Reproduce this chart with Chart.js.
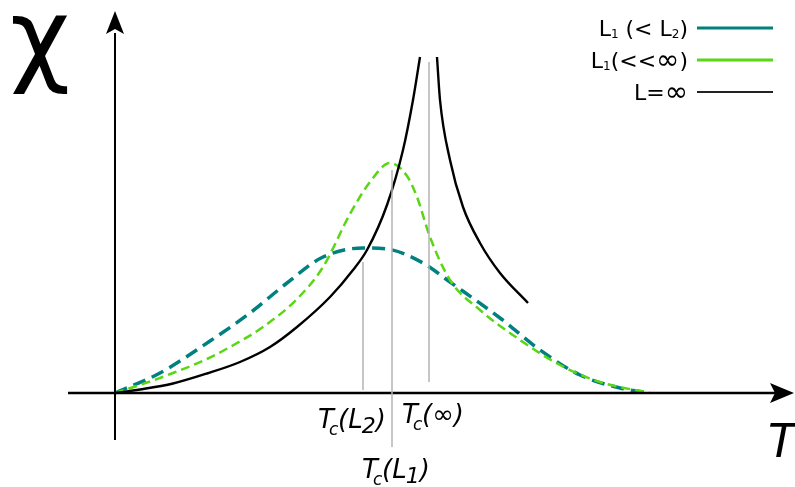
<!DOCTYPE html>
<html>
<head>
<meta charset="utf-8">
<script src="https://cdn.jsdelivr.net/npm/chart.js@4/dist/chart.umd.min.js"></script>
<style>
  html, body { margin: 0; padding: 0; background: #fff; }
  #wrap { width: 795px; height: 487px; }
</style>
</head>
<body>
<div id="wrap"><canvas id="c" width="795" height="487"></canvas></div>
<script>
// curva L1 (< L2) — verde azulado, discontinua
const tealT = [0, 0.45, 0.95, 1.35, 1.72, 2.08, 2.48, 2.72, 3.08, 3.35, 3.85, 4.25, 4.65, 5.05, 5.35];
const tealChi = [0, 0.20, 0.52, 0.80, 1.10, 1.36, 1.45, 1.44, 1.30, 1.11, 0.75, 0.43, 0.18, 0.05, 0];
// curva L1 (<< inf) — verde claro, discontinua
const greenT = [0, 0.25, 0.58, 0.92, 1.15, 1.48, 1.82, 2.08, 2.35, 2.55, 2.75, 2.92, 3.02, 3.15, 3.35, 3.65, 4.05, 4.45, 4.85, 5.35];
const greenChi = [0, 0.08, 0.20, 0.34, 0.46, 0.66, 0.94, 1.26, 1.79, 2.11, 2.30, 2.17, 1.96, 1.56, 1.13, 0.83, 0.53, 0.28, 0.11, 0];
// L = inf, dos ramas
const blackLeftT = [0, 0.25, 0.58, 0.92, 1.25, 1.55, 1.82, 2.15, 2.38, 2.52, 2.72, 2.88, 2.98, 3.05];
const blackLeftChi = [0, 0.035, 0.095, 0.195, 0.31, 0.46, 0.66, 0.96, 1.23, 1.43, 1.88, 2.43, 2.93, 3.36];
const blackRightT = [3.22, 3.25, 3.35, 3.48, 3.65, 3.85, 4.13];
const blackRightChi = [3.36, 2.93, 2.33, 1.86, 1.50, 1.20, 0.90];
// líneas verticales grises en Tc
const tcT = [2.48, 2.77, 3.14];
const tcTop = [1.31, 2.23, 3.31];
const tcBottom = [0.03, -0.54, 0.11];

const pts = (xs, ys) => xs.map((x, i) => ({ x: x, y: ys[i] }));

const datasets = [];
tcT.forEach((t, i) => {
  datasets.push({ data: [{ x: t, y: tcBottom[i] }, { x: t, y: tcTop[i] }], borderColor: '#b3b3b3', borderWidth: 1.5, tension: 0 });
});
datasets.push({ data: [{ x: -0.47, y: 0 }, { x: 6.62, y: 0 }], borderColor: '#000', borderWidth: 2.5, tension: 0 });
datasets.push({ data: [{ x: 0, y: -0.47 }, { x: 0, y: 3.6 }], borderColor: '#000', borderWidth: 2, tension: 0 });
datasets.push({ data: pts(blackLeftT, blackLeftChi), borderColor: '#000', borderWidth: 2.4, cubicInterpolationMode: 'monotone' });
datasets.push({ data: pts(blackRightT, blackRightChi), borderColor: '#000', borderWidth: 2.4, cubicInterpolationMode: 'monotone' });
datasets.push({ data: pts(greenT, greenChi), borderColor: '#5ad615', borderWidth: 2.5, borderDash: [9, 5], cubicInterpolationMode: 'monotone' });
datasets.push({ data: pts(tealT, tealChi), borderColor: '#00807f', borderWidth: 3.5, borderDash: [13, 7], cubicInterpolationMode: 'monotone' });

const decor = {
  id: 'decor',
  afterDatasetsDraw(chart) {
    const c = chart.ctx, xs = chart.scales.x, ys = chart.scales.y;
    const px = v => xs.getPixelForValue(v), py = v => ys.getPixelForValue(v);
    c.save();
    c.fillStyle = '#000';
    // puntas de flecha
    let ax = px(6.65), ay = py(0);
    c.beginPath(); c.moveTo(ax + 14, ay); c.lineTo(ax - 10, ay - 10); c.lineTo(ax - 5, ay); c.lineTo(ax - 10, ay + 10); c.closePath(); c.fill();
    ax = px(0); ay = py(3.62);
    c.beginPath(); c.moveTo(ax, ay - 20); c.lineTo(ax - 9, ay + 3); c.lineTo(ax, ay - 2); c.lineTo(ax + 9, ay + 3); c.closePath(); c.fill();

    c.textBaseline = 'alphabetic';
    c.font = '104px "DejaVu Sans"';
    c.fillText('χ', 10, 72);
    c.font = 'italic 46px "DejaVu Sans"';
    c.fillText('T', 768, 457);

    function tc(x, y, sub) {
      c.font = 'italic 26px "DejaVu Sans"';
      c.fillText('T', x, y);
      c.font = 'italic 17px "DejaVu Sans"';
      c.fillText('c', x + 11, y + 7);
      let xx = x + 20;
      c.font = 'italic 26px "DejaVu Sans"';
      c.fillText('(', xx, y); xx += c.measureText('(').width;
      if (sub) {
        c.fillText('L', xx, y); xx += c.measureText('L').width - 1;
        c.font = 'italic 22px "DejaVu Sans"';
        c.fillText(sub, xx, y + 5); xx += c.measureText(sub).width;
        c.font = 'italic 26px "DejaVu Sans"';
      } else {
        c.fillText('∞', xx, y); xx += c.measureText('∞').width;
      }
      c.fillText(')', xx, y);
    }
    tc(318, 428, '2');
    tc(402, 423, null);
    tc(362, 478, '1');

    // leyenda
    function leg(parts, y) {
      c.textBaseline = 'alphabetic';
      let w = 0;
      parts.forEach(p => { c.font = p[1] + 'px "DejaVu Sans"'; w += c.measureText(p[0]).width; });
      let xx = 688 - w;
      parts.forEach(p => { c.font = p[1] + 'px "DejaVu Sans"'; c.fillText(p[0], xx, y + 8 + p[2]); xx += c.measureText(p[0]).width; });
    }
    c.textAlign = 'left';
    leg([['L', 22, 0], ['1', 12, 2], [' (< L', 22, 0], ['2', 12, 2], [')', 22, 0]], 28);
    leg([['L', 22, 0], ['1', 12, 2], ['(<<', 22, 0], ['∞', 28, 1], [')', 22, 0]], 60);
    leg([['L=', 22, 0], ['∞', 28, 1]], 92);
    const lines = [['#00807f', 28, 3], ['#5ad615', 60, 3], ['#222', 92, 2]];
    lines.forEach(it => {
      c.strokeStyle = it[0]; c.lineWidth = it[2];
      c.beginPath(); c.moveTo(697, it[1]); c.lineTo(773, it[1]); c.stroke();
    });
    c.restore();
  }
};

new Chart(document.getElementById('c'), {
  type: 'line',
  data: { datasets: datasets },
  options: {
    responsive: false,
    animation: false,
    layout: { padding: 0 },
    elements: { point: { radius: 0 }, line: { fill: false } },
    plugins: { legend: { display: false }, tooltip: { enabled: false } },
    scales: {
      x: { type: 'linear', min: -1.15, max: 6.80, display: false },
      y: { type: 'linear', min: -0.94, max: 3.93, display: false }
    }
  },
  plugins: [decor]
});
</script>
</body>
</html>
